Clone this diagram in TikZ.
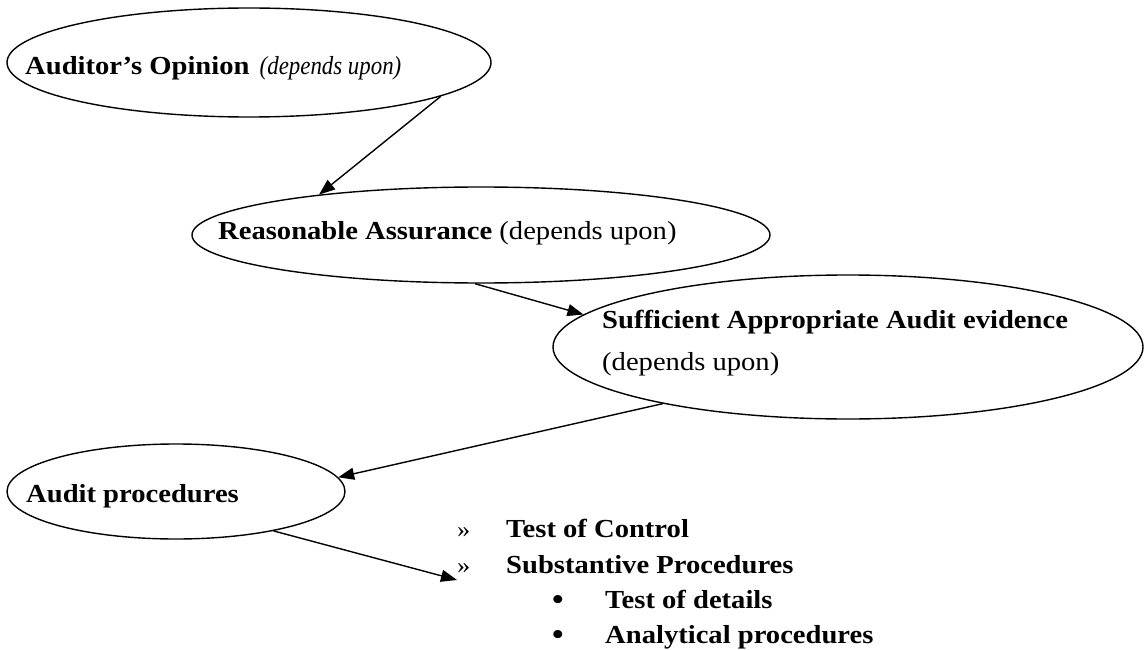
\documentclass[tikz,border=0pt]{standalone}
\usepackage{fontspec}
\setmainfont[FakeStretch=1.1]{Liberation Serif}
\newfontfamily\narrowit[FakeStretch=0.88]{Liberation Serif Italic}
\usetikzlibrary{shapes.geometric,arrows.meta}
\begin{document}
\begin{tikzpicture}[x=1pt,y=-1pt,
  oval/.style={draw, ellipse, line width=1.4pt, inner sep=0pt},
  lbl/.style={anchor=base west, inner sep=0pt, font=\fontsize{26}{30}\selectfont},
  listmark/.style={anchor=base west, inner sep=0pt, font=\fontsize{24}{28}\selectfont},
  bulletmark/.style={anchor=base west, inner sep=0pt, font=\fontsize{30}{34}\selectfont\bfseries},
  link/.style={line width=1.4pt, -{Triangle[length=16pt,width=12pt]}}]
\useasboundingbox (0,0) rectangle (1144,650);
% ellipses
\node[oval, minimum width=484pt, minimum height=109pt] (e1) at (249,62.5) {};
\node[oval, minimum width=578pt, minimum height=96pt] (e2) at (481,235) {};
\node[oval, minimum width=590pt, minimum height=144pt] (e3) at (848,347) {};
\node[oval, minimum width=338pt, minimum height=95pt] (e4) at (176,491.5) {};
% texts
\node[lbl] (t1) at (25,75) {\textbf{Auditor’s Opinion}\hspace{3pt} {\narrowit(depends upon)}};
\node[lbl] (t2) at (218,239) {\textbf{Reasonable Assurance} (depends upon)};
\node[lbl] (t3a) at (602,328) {\textbf{Sufficient Appropriate Audit evidence}};
\node[lbl] (t3b) at (602,370) {(depends upon)};
\node[lbl] (t4) at (26,502) {\textbf{Audit procedures}};
% list
\node[listmark] (m1) at (457,537) {»};
\node[lbl] (l1) at (506,537) {\textbf{Test of Control}};
\node[listmark] (m2) at (457,573) {»};
\node[lbl] (l2) at (506,573) {\textbf{Substantive Procedures}};
\node[bulletmark] (b1) at (552,609) {•};
\node[lbl] (l3) at (605,608) {\textbf{Test of details}};
\node[bulletmark] (b2) at (552,644) {•};
\node[lbl] (l4) at (605,643) {\textbf{Analytical procedures}};
\coordinate (tip4) at (457,580);
% connectors
\draw[link] (e1.-10.1) -- (e2.166.1);
\draw[link] (e2.-97) -- (e3.173.7);
\draw[link] (e3.197.9) -- (e4.5.2);
\draw[link] (e4.-22.9) -- (tip4);
\end{tikzpicture}
\end{document}
